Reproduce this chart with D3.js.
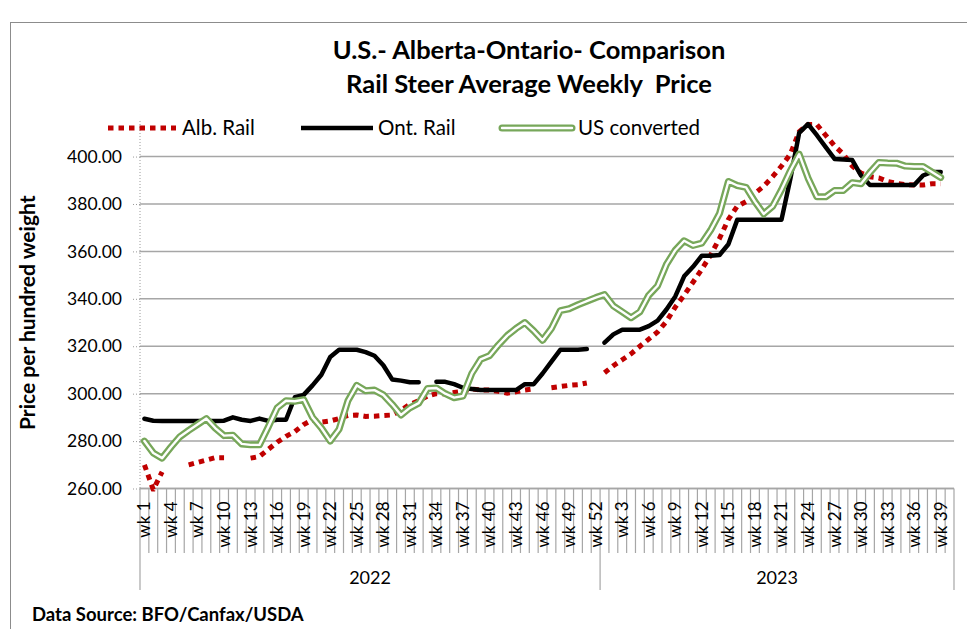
<!DOCTYPE html>
<html><head><meta charset="utf-8">
<script src="https://cdn.jsdelivr.net/npm/d3@7"></script>
<style>body{margin:0;background:#fff}svg{display:block}text{font-family:Lato,"Noto Sans",sans-serif;fill:#000;white-space:pre}</style>
</head><body>
<svg id="c" width="967" height="629"></svg>
<script>
// ---- data ----
const years = ["2022", "2023"];
const weeksPerYear = [52, 40];
const yTicks = [260, 280, 300, 320, 340, 360, 380, 400];
const seriesNames = ["Alb. Rail", "Ont. Rail", "US converted"];
const titleLines = ["U.S.- Alberta-Ontario- Comparison", "Rail Steer Average Weekly  Price"];

const albRail = [
  270, 259.5, 267, null, null, 270, 271, 272, 273, 273,
  null, null, 272.8, 273.5, 276.5, 279.5, 282, 284, 287, 289,
  288, 288.5, 289.5, 290.8, 291, 290.4, 290.5, 290.8, 291, 293,
  295.5, 297, 299, 300, 300, 300.5, 301, 302, 301.5, 301.5,
  301, 300.2, 300.8, 301.5, 302, null, 302.5, 303, 303.5, 303.8,
  304.5, null,
  308.8, 311.8, 314.3, 316.8, 320, 323, 326, 330.5, 336.5, 341.5,
  347, 352.5, 358.5, 365.5, 373.5, 379, 381, 384.5, 387.5, 391.5,
  396, 401, 410.5, 413.5, 413.5, 409, 404.5, 401, 396, 393,
  391.5, 391, 389.5, 388.7, 388.2, 388, 388, 388.5, 388.5, null
];
const ontRail = [
  289.4, 288.6, 288.5, 288.5, 288.5, 288.5, 288.5, 288.5, 288.5, 288.6,
  290, 289, 288.5, 289.5, 288.5, 289, 289, 298.5, 299.5, 303.5,
  308, 315.5, 318.5, 318.5, 318.5, 317.5, 316, 312, 306, 305.5,
  304.8, 304.8, null, 305, 305, 304, 302.5, 302, 301.5, 301.5,
  301.5, 301.5, 301.5, 304, 304, 308.5, 313.5, 318.5, 318.5, 318.5,
  318.8, null,
  321.5, 325, 327, 327, 327, 328.5, 330.8, 335.5, 341, 349.5,
  353.5, 358.2, 358.2, 358.5, 363, 373.3, 373.3, 373.3, 373.3, 373.3,
  373.3, 390.5, 410, 413.7, 409, 404, 399, 398.8, 398.5, 392,
  388, 388, 388, 388, 388, 388, 392, 393.5, 393.5, null
];
const usConverted = [
  280, 275, 272.8, 277.5, 281.8, 284.5, 287, 289.5, 285.5, 282.3,
  282.5, 278.8, 278.4, 278.4, 286, 294, 297, 296.8, 297.5, 290,
  285.5, 280, 285, 297, 303.5, 301.2, 301.5, 299.5, 295.5, 291,
  294, 296, 302.2, 302.4, 300, 298.3, 299, 308.5, 314.5, 316,
  320.5, 324.5, 327.5, 330, 326.5, 322.5, 327.5, 335, 335.8, 337.5,
  339, 340.5,
  341.8, 337, 334.5, 332, 334.5, 341.5, 345.5, 354.5, 360.5, 364.5,
  362.5, 363.5, 369, 376, 389.5, 387.8, 387, 381, 375.8, 379,
  386, 394, 401, 391, 383, 383, 385.7, 385.7, 389, 388.5,
  393.3, 397.5, 397.3, 397.2, 396, 395.8, 395.8, 393.5, 391.2, null
];

// ---- categories ----
const cats = [];
years.forEach((yr, k) => { for (let w = 1; w <= weeksPerYear[k]; w++) cats.push({year: yr, wk: w}); });

// ---- layout ----
const svg = d3.select("#c");
const L = 140, R = 954, B = 488.5;
const y = d3.scaleLinear().domain([260, 415]).range([B, B - 155 * 2.371]);
const T = y(415);
const x = d3.scaleBand().domain(d3.range(cats.length)).range([L, R]).padding(0);
const xc = i => x(i) + x.bandwidth() / 2;

// outer border
svg.append("rect").attr("x", 10.5).attr("y", 22.5).attr("width", 1000).attr("height", 1000)
  .attr("fill", "none").attr("stroke", "#8c8c8c").attr("stroke-width", 1);

// title
svg.append("text").attr("x", 529).attr("y", 59).attr("text-anchor", "middle")
  .attr("font-size", 25.5).attr("font-weight", "bold").text(titleLines[0]);
svg.append("text").attr("x", 529).attr("y", 93).attr("text-anchor", "middle")
  .attr("font-size", 25.5).attr("font-weight", "bold").text(titleLines[1]);

// gridlines
svg.append("g").selectAll("line").data(yTicks).join("line")
  .attr("x1", L).attr("x2", R).attr("y1", d => y(d)).attr("y2", d => y(d))
  .attr("stroke", "#a6a6a6").attr("stroke-width", 1.5);

// y axis (dotted)
const yAxis = d3.axisLeft(y).tickValues(yTicks).tickFormat(d => d.toFixed(2)).tickSize(7).tickPadding(11);
const gy = svg.append("g").attr("transform", `translate(${L},0)`).call(yAxis);
gy.select(".domain").remove();
gy.selectAll(".tick line").attr("stroke", "#999").attr("stroke-dasharray", "1,2");
gy.selectAll(".tick text").attr("font-size", 17.5).attr("font-family", "Lato").attr("fill", "#000");
svg.append("line").attr("x1", L).attr("x2", L).attr("y1", T).attr("y2", B)
  .attr("stroke", "#999").attr("stroke-width", 1).attr("stroke-dasharray", "1,2");

// y title
svg.append("text").attr("transform", `translate(35,${(T + B) / 2 + 8}) rotate(-90)`)
  .attr("text-anchor", "middle").attr("font-size", 21).attr("font-weight", "bold")
  .text("Price per hundred weight");

// x axis baseline
svg.append("line").attr("x1", L).attr("x2", R).attr("y1", B).attr("y2", B)
  .attr("stroke", "#a6a6a6").attr("stroke-width", 1.5);

// category boundary ticks
const bounds = d3.range(cats.length + 1);
const yearStarts = [0];
weeksPerYear.reduce((a, n) => { yearStarts.push(a + n); return a + n; }, 0);
svg.append("g").selectAll("line").data(bounds).join("line")
  .attr("x1", i => i < cats.length ? x(i) : R).attr("x2", i => i < cats.length ? x(i) : R)
  .attr("y1", B).attr("y2", i => yearStarts.includes(i) ? 590 : 553)
  .attr("stroke", "#a6a6a6").attr("stroke-width", 1.2);

// x tick labels (every 3rd)
const xAxis = d3.axisBottom(x).tickValues(d3.range(0, cats.length, 3))
  .tickFormat(i => "wk " + cats[i].wk).tickSize(0);
const gx = svg.append("g").attr("transform", `translate(0,${B})`).call(xAxis);
gx.select(".domain").remove();
gx.selectAll(".tick text").attr("font-size", 17).attr("font-family", "Lato").attr("fill", "#000")
  .attr("text-anchor", "end").attr("transform", "rotate(-90)")
  .attr("x", -13).attr("y", 0).attr("dy", "0.35em");

// year labels
years.forEach((yr, k) => {
  const a = yearStarts[k], b = yearStarts[k + 1];
  const x0 = x(a), x1 = b < cats.length ? x(b) : R;
  svg.append("text").attr("x", (x0 + x1) / 2).attr("y", 584).attr("text-anchor", "middle")
    .attr("font-size", 18).text(yr);
});

// clip
svg.append("clipPath").attr("id", "pc").append("rect")
  .attr("x", L).attr("y", T).attr("width", R - L).attr("height", B - T + 3);

const line = d3.line().defined(d => d != null).x((d, i) => xc(i)).y(d => y(d));
const gl = svg.append("g").attr("clip-path", "url(#pc)");
const RED = "#c00000", GREEN = "#77a75a";

gl.append("path").attr("d", line(albRail)).attr("fill", "none").attr("stroke", RED)
  .attr("stroke-width", 5).attr("stroke-dasharray", "5.5,5");
gl.append("path").attr("d", line(ontRail)).attr("fill", "none").attr("stroke", "#000")
  .attr("stroke-width", 4.5).attr("stroke-linecap", "round").attr("stroke-linejoin", "round");
gl.append("path").attr("d", line(usConverted)).attr("fill", "none").attr("stroke", GREEN)
  .attr("stroke-width", 7).attr("stroke-linecap", "round").attr("stroke-linejoin", "round");
gl.append("path").attr("d", line(usConverted)).attr("fill", "none").attr("stroke", "#fff")
  .attr("stroke-width", 2.4).attr("stroke-linecap", "round").attr("stroke-linejoin", "round");

// legend
const LY = 128;
svg.append("line").attr("x1", 108).attr("x2", 176).attr("y1", LY).attr("y2", LY)
  .attr("stroke", RED).attr("stroke-width", 5).attr("stroke-dasharray", "5.5,5");
svg.append("text").attr("x", 182).attr("y", LY + 7).attr("font-size", 20.5).text(seriesNames[0]);
svg.append("line").attr("x1", 301).attr("x2", 373).attr("y1", LY).attr("y2", LY)
  .attr("stroke", "#000").attr("stroke-width", 4.5);
svg.append("text").attr("x", 378).attr("y", LY + 7).attr("font-size", 20.5).text(seriesNames[1]);
svg.append("line").attr("x1", 502).attr("x2", 572).attr("y1", LY).attr("y2", LY)
  .attr("stroke", GREEN).attr("stroke-width", 7).attr("stroke-linecap", "round");
svg.append("line").attr("x1", 502).attr("x2", 572).attr("y1", LY).attr("y2", LY)
  .attr("stroke", "#fff").attr("stroke-width", 2.4).attr("stroke-linecap", "round");
svg.append("text").attr("x", 578).attr("y", LY + 7).attr("font-size", 20.5).text(seriesNames[2]);

// source
svg.append("text").attr("x", 32).attr("y", 621).attr("font-size", 18.5).attr("font-weight", "bold")
  .text("Data Source: BFO/Canfax/USDA");
</script>
</body></html>
